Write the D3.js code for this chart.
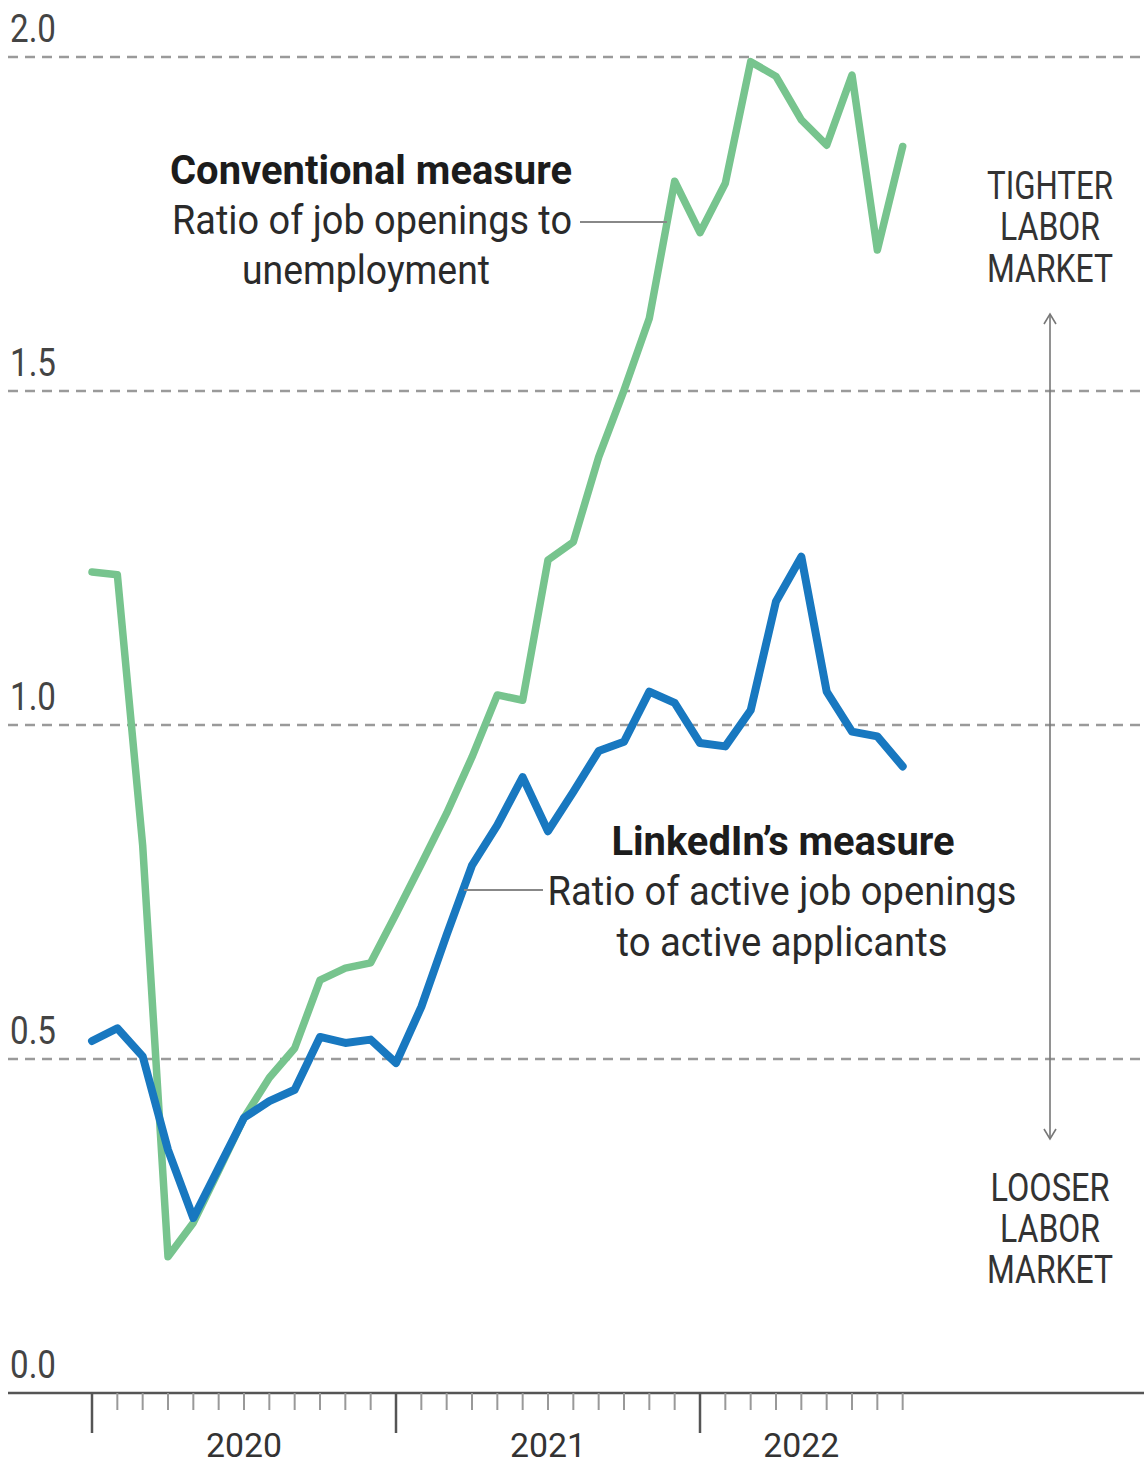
<!DOCTYPE html>
<html>
<head>
<meta charset="utf-8">
<script src="https://cdn.jsdelivr.net/npm/d3@7"></script>
<style>
  html, body { margin: 0; padding: 0; background: #fff; }
  svg { display: block; }
  text { font-family: Roboto, "Noto Sans", "Liberation Sans", sans-serif; }
</style>
</head>
<body>
<svg id="chart" width="1144" height="1467"></svg>
<script>
// ---- Data (monthly, Jan 2020 – Sep 2022) ----
const months = [
  "2020-01","2020-02","2020-03","2020-04","2020-05","2020-06","2020-07","2020-08","2020-09","2020-10","2020-11","2020-12",
  "2021-01","2021-02","2021-03","2021-04","2021-05","2021-06","2021-07","2021-08","2021-09","2021-10","2021-11","2021-12",
  "2022-01","2022-02","2022-03","2022-04","2022-05","2022-06","2022-07","2022-08","2022-09"
];
const conventional = [
  1.229, 1.225, 0.820, 0.204, 0.255, 0.333, 0.412, 0.472, 0.516, 0.618, 0.636, 0.644,
  0.717, 0.792, 0.868, 0.952, 1.045, 1.037, 1.247, 1.274, 1.401, 1.501, 1.609, 1.814,
  1.737, 1.811, 1.993, 1.971, 1.906, 1.868, 1.973, 1.711, 1.866
];
const linkedin = [
  0.527, 0.546, 0.504, 0.364, 0.262, 0.337, 0.412, 0.437, 0.454, 0.533, 0.524, 0.529,
  0.494, 0.578, 0.686, 0.790, 0.850, 0.922, 0.841, 0.900, 0.961, 0.975, 1.050, 1.033,
  0.973, 0.968, 1.022, 1.185, 1.252, 1.050, 0.990, 0.983, 0.938
];
const yTicks = [0, 0.5, 1.0, 1.5, 2.0];
const yTickLabels = ["0.0", "0.5", "1.0", "1.5", "2.0"];
const years = ["2020", "2021", "2022"];

// ---- Layout ----
const svg = d3.select("#chart");
const W = 1144;
const x = d3.scaleLinear().domain([0, 12]).range([92, 396]);
const y = d3.scaleLinear().domain([0, 2]).range([1393, 57]);

// condensed text helper
function ctext(g, str, cx, by, width, opts) {
  const t = g.append("text")
    .attr("x", cx).attr("y", by)
    .attr("text-anchor", opts.anchor || "middle")
    .attr("font-size", opts.size)
    .attr("font-weight", opts.weight || 400)
    .attr("fill", opts.fill || "#222")
    .text(str);
  if (width) t.attr("textLength", width).attr("lengthAdjust", "spacingAndGlyphs");
  return t;
}

// ---- Gridlines ----
const grid = svg.append("g");
yTicks.filter(v => v > 0).forEach(v => {
  grid.append("line")
    .attr("x1", 8).attr("x2", W)
    .attr("y1", y(v)).attr("y2", y(v))
    .attr("stroke", "#9a9a9a").attr("stroke-width", 2.5)
    .attr("stroke-dasharray", "10 7");
});
yTicks.forEach((v, i) => {
  ctext(grid, yTickLabels[i], 10, y(v) - 15, 46, {anchor: "start", size: 38, fill: "#444"});
});

// ---- X axis ----
const axis = svg.append("g");
axis.append("line")
  .attr("x1", 8).attr("x2", W).attr("y1", y(0)).attr("y2", y(0))
  .attr("stroke", "#555").attr("stroke-width", 2.5);
months.forEach((m, i) => {
  const major = m.endsWith("-01");
  axis.append("line")
    .attr("x1", x(i)).attr("x2", x(i))
    .attr("y1", y(0)).attr("y2", y(0) + (major ? 40 : 17))
    .attr("stroke", major ? "#555" : "#999")
    .attr("stroke-width", major ? 2.5 : 2);
});
years.forEach(yr => {
  const idx = months.map((m, i) => m.startsWith(yr) ? i : -1).filter(i => i >= 0);
  const first = idx[0];
  const last = yr === "2022" ? idx[idx.length - 1] : idx[0] + 12;
  ctext(axis, yr, (x(first) + x(last)) / 2, 1457, 76, {size: 34, fill: "#333"});
});

// ---- Lines ----
const line = d3.line().x((d, i) => x(i)).y(d => y(d));
svg.append("path").datum(conventional)
  .attr("d", line).attr("fill", "none")
  .attr("stroke", "#77c48e").attr("stroke-width", 7.5)
  .attr("stroke-linejoin", "round").attr("stroke-linecap", "round");
svg.append("path").datum(linkedin)
  .attr("d", line).attr("fill", "none")
  .attr("stroke", "#1878c0").attr("stroke-width", 8)
  .attr("stroke-linejoin", "round").attr("stroke-linecap", "round");

// ---- Annotations ----
const ann = svg.append("g");
ctext(ann, "Conventional measure", 371, 184, 402, {size: 40, weight: 700, fill: "#1c1c1c"});
ctext(ann, "Ratio of job openings to", 372, 234, 400, {size: 40, fill: "#2a2a2a"});
ctext(ann, "unemployment", 366, 284, 248, {size: 40, fill: "#2a2a2a"});
ann.append("line").attr("x1", 580).attr("x2", 667).attr("y1", 222).attr("y2", 222)
  .attr("stroke", "#888").attr("stroke-width", 2);

ctext(ann, "LinkedIn\u2019s measure", 783, 855, 343, {size: 40, weight: 700, fill: "#1c1c1c"});
ctext(ann, "Ratio of active job openings", 782, 905, 469, {size: 40, fill: "#2a2a2a"});
ctext(ann, "to active applicants", 782, 956, 331, {size: 40, fill: "#2a2a2a"});
ann.append("line").attr("x1", 464).attr("x2", 543).attr("y1", 890).attr("y2", 890)
  .attr("stroke", "#888").attr("stroke-width", 2);

// right side
ctext(ann, "TIGHTER", 1050, 199, 126, {size: 38, fill: "#333"});
ctext(ann, "LABOR", 1050, 240, 100, {size: 38, fill: "#333"});
ctext(ann, "MARKET", 1050, 282, 126, {size: 38, fill: "#333"});
ctext(ann, "LOOSER", 1050, 1201, 119, {size: 38, fill: "#333"});
ctext(ann, "LABOR", 1050, 1242, 100, {size: 38, fill: "#333"});
ctext(ann, "MARKET", 1050, 1283, 126, {size: 38, fill: "#333"});

ann.append("line").attr("x1", 1050).attr("x2", 1050).attr("y1", 314).attr("y2", 1139)
  .attr("stroke", "#777").attr("stroke-width", 1.6);
ann.append("path").attr("d", "M1044,324 L1050,314 L1056,324")
  .attr("fill", "none").attr("stroke", "#777").attr("stroke-width", 1.6);
ann.append("path").attr("d", "M1044,1129 L1050,1139 L1056,1129")
  .attr("fill", "none").attr("stroke", "#777").attr("stroke-width", 1.6);
</script>
</body>
</html>
